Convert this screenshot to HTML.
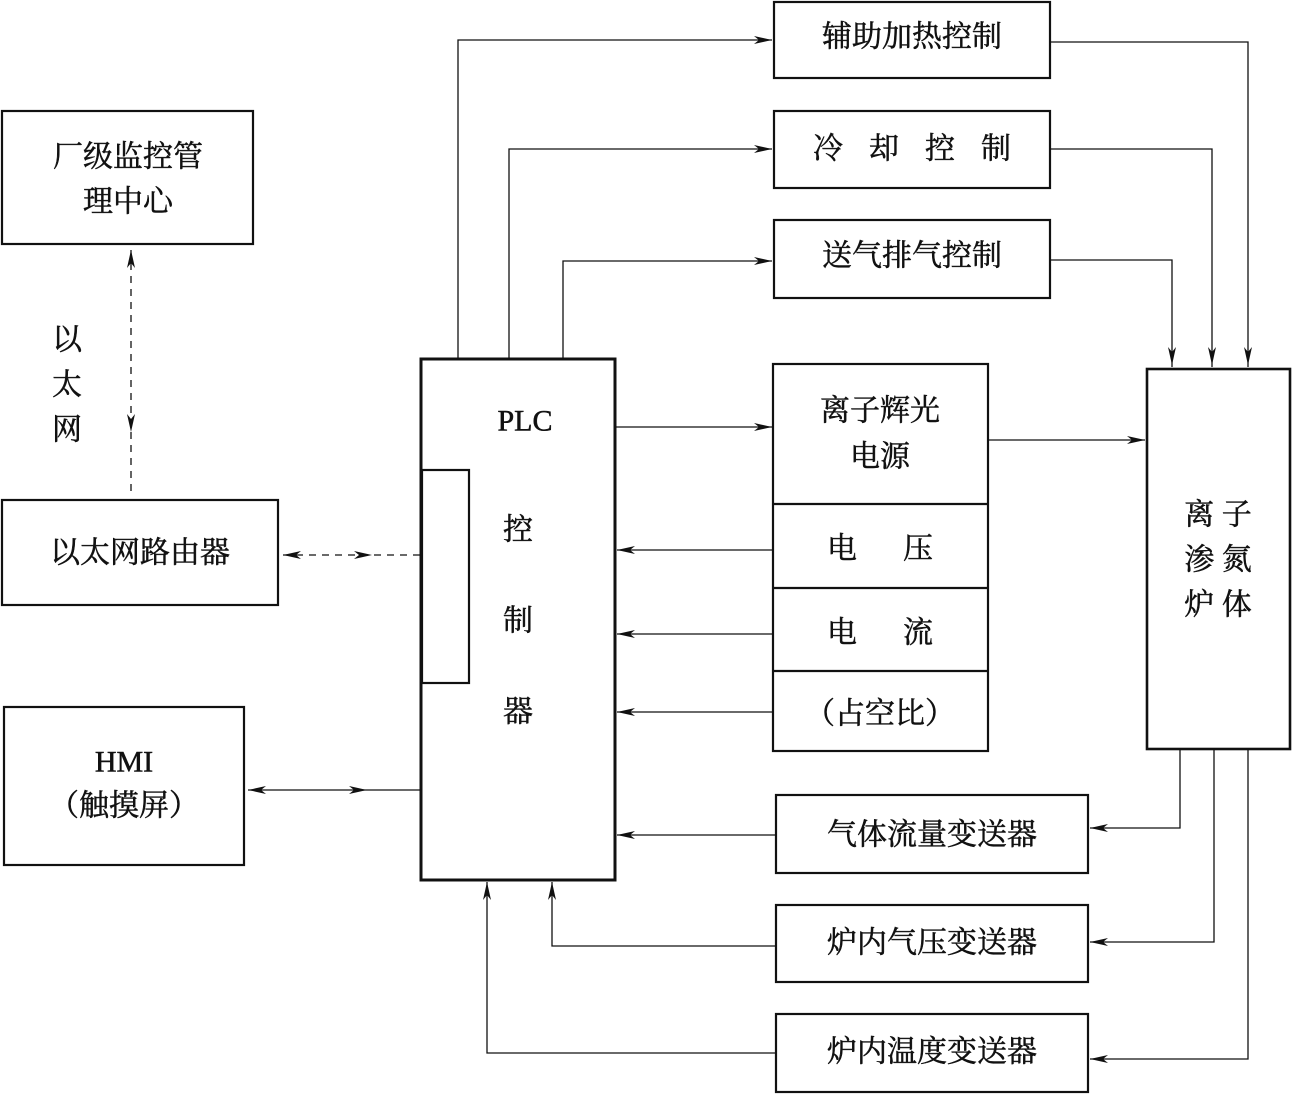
<!DOCTYPE html>
<html><head><meta charset="utf-8"><style>
html,body{margin:0;padding:0;background:#fff;width:1292px;height:1094px;overflow:hidden}
text{font-family:"Liberation Serif","Noto Serif CJK SC",serif;font-size:30px;fill:#111;stroke:#111;stroke-width:0.5;text-anchor:middle;dominant-baseline:central}
</style></head><body>
<svg width="1292" height="1094" viewBox="0 0 1292 1094" xmlns="http://www.w3.org/2000/svg">
<defs>
<marker id="a" markerUnits="userSpaceOnUse" markerWidth="20" markerHeight="10" refX="18" refY="5" orient="auto">
<path d="M0,1 L18,5 L0,9 L5,5 Z" fill="#111"/></marker>
</defs>
<g fill="none" stroke="#111" stroke-width="2.2">
<rect x="2" y="111" width="251" height="133"/>
<rect x="2" y="500" width="276" height="105"/>
<rect x="4" y="707" width="240" height="158"/>
<rect x="421" y="359" width="194" height="521" stroke-width="3"/>
<rect x="422" y="470" width="47" height="213"/>
<rect x="774" y="2" width="276" height="76"/>
<rect x="774" y="111" width="276" height="77"/>
<rect x="774" y="220" width="276" height="78"/>
<rect x="773" y="364" width="215" height="387"/>
<line x1="773" y1="504" x2="988" y2="504"/>
<line x1="773" y1="588" x2="988" y2="588"/>
<line x1="773" y1="671" x2="988" y2="671"/>
<rect x="1147" y="369" width="143" height="380" stroke-width="2.6"/>
<rect x="776" y="795" width="312" height="78"/>
<rect x="776" y="905" width="312" height="77"/>
<rect x="776" y="1014" width="312" height="78"/>
</g>
<g fill="none" stroke="#111" stroke-width="1.3">
<line x1="131" y1="250" x2="131" y2="497" stroke-dasharray="7,6"/>
<line x1="283" y1="555" x2="421" y2="555" stroke-dasharray="7,6"/>
<line x1="248" y1="790" x2="421" y2="790"/>
<polyline points="458,359 458,40 772,40"/>
<polyline points="509,359 509,149 772,149"/>
<polyline points="563,359 563,261 772,261"/>
<line x1="615" y1="427" x2="772" y2="427"/>
<line x1="617" y1="550" x2="773" y2="550"/>
<line x1="617" y1="634" x2="773" y2="634"/>
<line x1="617" y1="712" x2="773" y2="712"/>
<line x1="988" y1="440" x2="1145" y2="440"/>
<polyline points="1050,42 1248,42 1248,367"/>
<polyline points="1050,149 1212,149 1212,367"/>
<polyline points="1050,260 1172,260 1172,367"/>
<polyline points="1180,749 1180,828 1090,828"/>
<polyline points="1214,749 1214,942 1090,942"/>
<polyline points="1248,749 1248,1059 1090,1059"/>
<line x1="617" y1="835" x2="776" y2="835"/>
<polyline points="776,946 552,946 552,882"/>
<polyline points="776,1053 487,1053 487,882"/>
</g>
<g stroke="none" fill="none">
<line x1="131" y1="270" x2="131" y2="250" marker-end="url(#a)"/>
<line x1="131" y1="410" x2="131" y2="432" marker-end="url(#a)"/>
<line x1="300" y1="555" x2="283" y2="555" marker-end="url(#a)"/>
<line x1="350" y1="555" x2="372" y2="555" marker-end="url(#a)"/>
<line x1="270" y1="790" x2="248" y2="790" marker-end="url(#a)"/>
<line x1="340" y1="790" x2="367" y2="790" marker-end="url(#a)"/>
<line x1="750" y1="40" x2="772" y2="40" marker-end="url(#a)"/>
<line x1="750" y1="149" x2="772" y2="149" marker-end="url(#a)"/>
<line x1="750" y1="261" x2="772" y2="261" marker-end="url(#a)"/>
<line x1="750" y1="427" x2="772" y2="427" marker-end="url(#a)"/>
<line x1="640" y1="550" x2="617" y2="550" marker-end="url(#a)"/>
<line x1="640" y1="634" x2="617" y2="634" marker-end="url(#a)"/>
<line x1="640" y1="712" x2="617" y2="712" marker-end="url(#a)"/>
<line x1="640" y1="835" x2="617" y2="835" marker-end="url(#a)"/>
<line x1="1120" y1="440" x2="1145" y2="440" marker-end="url(#a)"/>
<line x1="1248" y1="340" x2="1248" y2="365" marker-end="url(#a)"/>
<line x1="1212" y1="340" x2="1212" y2="365" marker-end="url(#a)"/>
<line x1="1172" y1="340" x2="1172" y2="365" marker-end="url(#a)"/>
<line x1="1110" y1="828" x2="1090" y2="828" marker-end="url(#a)"/>
<line x1="1110" y1="942" x2="1090" y2="942" marker-end="url(#a)"/>
<line x1="1110" y1="1059" x2="1090" y2="1059" marker-end="url(#a)"/>
<line x1="552" y1="905" x2="552" y2="882" marker-end="url(#a)"/>
<line x1="487" y1="905" x2="487" y2="882" marker-end="url(#a)"/>
</g>
<text x="128" y="157">厂级监控管</text>
<text x="128" y="202">理中心</text>
<text x="67" y="340">以</text>
<text x="67" y="385">太</text>
<text x="67" y="430">网</text>
<text x="140" y="553">以太网路由器</text>
<text x="124" y="762">HMI</text>
<text x="124" y="806">（触摸屏）</text>
<text x="525" y="421">PLC</text>
<text x="518" y="530">控</text>
<text x="518" y="621">制</text>
<text x="518" y="712">器</text>
<text x="912" y="37">辅助加热控制</text>
<text x="912" y="149" style="letter-spacing:26px" dx="13">冷却控制</text>
<text x="912" y="256">送气排气控制</text>
<text x="880" y="411">离子辉光</text>
<text x="880" y="457">电源</text>
<text x="880" y="549" style="letter-spacing:46px" dx="23">电压</text>
<text x="880" y="633" style="letter-spacing:46px" dx="23">电流</text>
<text x="880" y="714">（占空比）</text>
<text x="1218" y="515">离 子</text>
<text x="1218" y="560">渗 氮</text>
<text x="1218" y="605">炉 体</text>
<text x="932" y="835">气体流量变送器</text>
<text x="932" y="943">炉内气压变送器</text>
<text x="932" y="1052">炉内温度变送器</text>
</svg>
</body></html>
